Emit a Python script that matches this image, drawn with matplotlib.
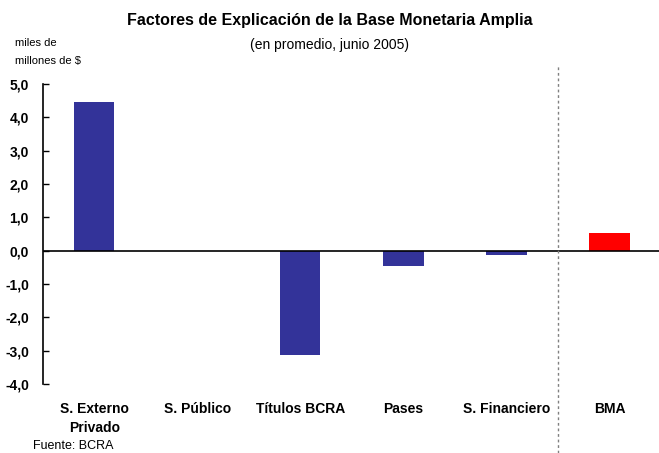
import matplotlib
matplotlib.use('Agg')
import matplotlib.pyplot as plt
from matplotlib.lines import Line2D

plt.rcParams['font.family'] = ['Liberation Sans', 'DejaVu Sans']

categories = ['S. Externo\nPrivado', 'S. Público', 'Títulos BCRA', 'Pases', 'S. Financiero', 'BMA']
values = [4.46, 0.0, -3.13, -0.46, -0.13, 0.53]
colors = ['#333399'] * 5 + ['#ff0000']
yticks = [-4, -3, -2, -1, 0, 1, 2, 3, 4, 5]

fig = plt.figure(figsize=(6.59, 4.53), dpi=100)
ax = fig.add_axes([0.065, 0.152, 0.938, 0.663])

x = list(range(len(categories)))
ax.bar(x, values, width=0.39, color=colors)
ax.axhline(0, color='black', lw=1.2)

ax.set_xlim(-0.5, len(categories) - 0.5)
ax.set_ylim(-4, 5)
ax.set_yticks(yticks)
ax.set_yticklabels([('%.1f' % v).replace('.', ',') for v in yticks], fontweight='bold', fontsize=10)
ax.tick_params(axis='y', direction='in', length=4, width=1, pad=10)
ax.set_xticks(x)
ax.set_xticklabels(categories, fontweight='bold', fontsize=10, linespacing=1.45)
ax.tick_params(axis='x', length=0, pad=13)

for s in ['top', 'right', 'bottom']:
    ax.spines[s].set_visible(False)
ax.spines['left'].set_linewidth(1.2)

# separator between factors and BMA
xs = ax.transData.transform((4.5, 0))[0]
xf = fig.transFigure.inverted().transform((xs, 0))[0]
fig.add_artist(Line2D([xf, xf], [0.0, 0.857], transform=fig.transFigure,
                      color='gray', lw=1, ls=(0, (2, 2))))

fig.text(0.5, 0.955, 'Factores de Explicación de la Base Monetaria Amplia',
         ha='center', va='center', fontsize=11.5, fontweight='bold')
fig.text(0.5, 0.90, '(en promedio, junio 2005)', ha='center', va='center', fontsize=10)
fig.text(0.023, 0.905, 'miles de', fontsize=8, va='center')
fig.text(0.023, 0.865, 'millones de $', fontsize=8, va='center')
fig.text(0.05, 0.016, 'Fuente: BCRA', fontsize=9, va='center')

fig.savefig('out.png', dpi=100)
